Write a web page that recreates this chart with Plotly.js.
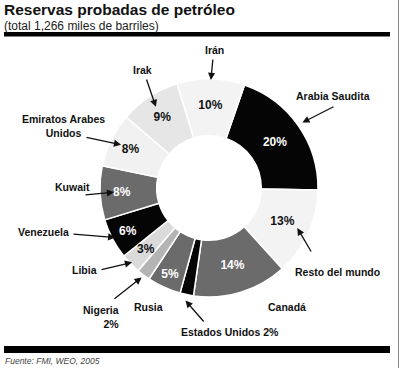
<!DOCTYPE html>
<html><head><meta charset="utf-8">
<script src="https://cdn.plot.ly/plotly-3.0.1.min.js"></script>
<style>html,body{margin:0;padding:0;background:#fff}#chart{width:400px;height:368px}</style>
</head><body><div id="chart"></div>
<script>
// Data (clockwise from Arabia Saudita)
const countries = ['Arabia Saudita','Resto del mundo','Canadá','Estados Unidos','Rusia','Nigeria','Libia','Venezuela','Kuwait','Emiratos Arabes Unidos','Irak','Irán'];
const shares = [20, 13, 14, 2, 5, 2, 3, 6, 8, 8, 9, 10];
const sliceColors = ['#050505','#f3f3f3','#6b6b6b','#050505','#6b6b6b','#b4b4b4','#dadada','#050505','#6b6b6b','#f1f1f1','#e6e6e6','#f3f3f3'];
const insideText = ['%{value}%','%{value}%','%{value}%','','%{value}%','','','%{value}%','%{value}%','%{value}%','%{value}%','%{value}%'];
const insideColors = ['#fff','#111','#fff','#fff','#fff','#111','#111','#fff','#fff','#111','#111','#111'];

const W = 400, H = 368;
const CX = 209, CY = 188, R = 109;
const ROT = 19;
const FONT = 'Liberation Sans, Arial, sans-serif';

// label placement (pixels): text centre, arrow tail, arrow tip radius
const labelStyle = {
  'Irán':            {text:'Irán', tx:214, ty:50, tail:[213,58], tipR:108},
  'Irak':            {text:'Irak', tx:142, ty:70, tail:[146,78], tipR:97},
  'Arabia Saudita':  {text:'Arabia Saudita', tx:333, ty:96, tail:[335,106], tipR:114},
  'Emiratos Arabes Unidos': {text:'Emiratos Arabes<br>Unidos', tx:63, ty:126, tail:[85,137], tipR:98},
  'Kuwait':          {text:'Kuwait', tx:72, ty:187, tail:[84,195], tipR:95},
  'Venezuela':       {text:'Venezuela', tx:43, ty:232, tail:[72,234], tipR:106},
  'Libia':           {text:'Libia', tx:84, ty:270, tail:[100,270], tipR:107, inner:88},
  'Nigeria':         {text:'Nigeria<br>2%', tx:101, ty:317, tail:[113,300], tipR:112, align:'right'},
  'Rusia':           {text:'Rusia', tx:148, ty:307},
  'Estados Unidos':  {text:'Estados Unidos 2%', tx:230, ty:332, tail:[205,323], tipR:115},
  'Canadá':          {text:'Canadá', tx:287, ty:307},
  'Resto del mundo': {text:'Resto del mundo', tx:337, ty:272, tail:[312,253], tipR:97}
};

const total = shares.reduce((a,b)=>a+b,0);
const annotations = [];
let cum = 0;
countries.forEach((c,i)=>{
  const mid = ROT + (cum + shares[i]/2)/total*360;
  cum += shares[i];
  const s = labelStyle[c];
  if(!s) return;
  const a = mid*Math.PI/180;
  annotations.push({xref:'paper',yref:'paper',x:s.tx/W,y:1-s.ty/H,text:s.text,showarrow:false,
    xanchor:'center',yanchor:'middle',align:s.align||'center',
    font:{family:FONT,size:10.5,color:'#111',weight:'bold'}});
  if(s.tail){
    const px = CX + s.tipR*Math.sin(a), py = CY - s.tipR*Math.cos(a);
    annotations.push({xref:'paper',yref:'paper',x:px/W,y:1-py/H,text:'',showarrow:true,
      axref:'pixel',ayref:'pixel',ax:s.tail[0]-px,ay:s.tail[1]-py,
      arrowhead:2,arrowsize:1.1,arrowwidth:1.3,arrowcolor:'#111',standoff:0,startstandoff:0});
  }
  if(s.inner){
    const qx = CX + s.inner*Math.sin(a), qy = CY - s.inner*Math.cos(a);
    annotations.push({xref:'paper',yref:'paper',x:qx/W,y:1-qy/H,text:shares[i]+'%',showarrow:false,
      xanchor:'center',yanchor:'middle',font:{family:FONT,size:12,color:insideColors[i],weight:'bold'}});
  }
});

// titles and source
annotations.push({xref:'paper',yref:'paper',x:3/W,y:1-9.5/H,xanchor:'left',yanchor:'middle',showarrow:false,borderpad:0,
  text:'<b>Reservas probadas de petróleo</b>',font:{family:FONT,size:15.5,color:'#111'}});
annotations.push({xref:'paper',yref:'paper',x:3/W,y:1-26/H,xanchor:'left',yanchor:'middle',showarrow:false,borderpad:0,
  text:'(total 1,266 miles de barriles)',font:{family:FONT,size:12,color:'#222'}});
annotations.push({xref:'paper',yref:'paper',x:3/W,y:1-361/H,xanchor:'left',yanchor:'middle',showarrow:false,
  text:'<i>Fuente: FMI, WEO, 2005</i>',font:{family:FONT,size:8.5,color:'#444'}});

const shapes = [
  {type:'rect',xref:'paper',yref:'paper',x0:4/W,x1:390/W,y0:1-36.5/H,y1:1-32/H,fillcolor:'#000',line:{width:0}},
  {type:'rect',xref:'paper',yref:'paper',x0:4/W,x1:390/W,y0:1-353/H,y1:1-346/H,fillcolor:'#000',line:{width:0}},
  {type:'line',xref:'paper',yref:'paper',x0:398.5/W,x1:398.5/W,y0:0,y1:1,line:{color:'#888',width:1}}
];

const trace = {
  type:'pie', labels:countries, values:shares, sort:false, direction:'clockwise', rotation:ROT,
  hole:0.48, marker:{colors:sliceColors, line:{color:'#fff',width:1.5}},
  texttemplate:insideText, textposition:'inside', insidetextorientation:'horizontal',
  insidetextfont:{family:FONT,size:12,color:insideColors,weight:'bold'},
  domain:{x:[(CX-R)/W,(CX+R)/W], y:[1-(CY+R)/H, 1-(CY-R)/H]},
  showlegend:false, hoverinfo:'none'
};

Plotly.newPlot('chart',[trace],{
  width:W,height:H,margin:{l:0,r:0,t:0,b:0},paper_bgcolor:'#fff',
  annotations:annotations, shapes:shapes, showlegend:false
},{staticPlot:true});
</script></body></html>
